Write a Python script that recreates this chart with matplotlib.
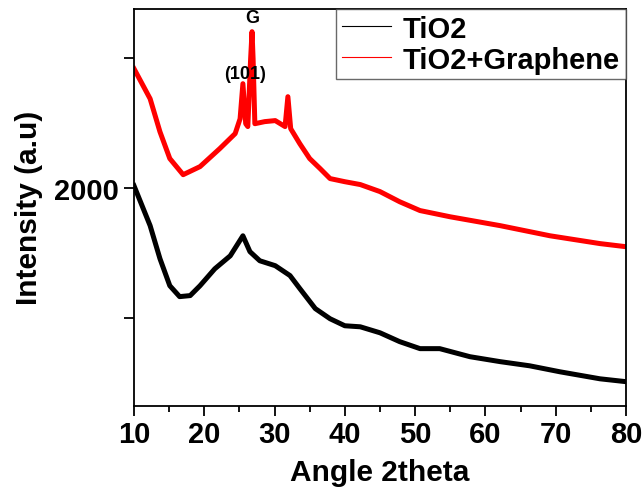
import matplotlib
matplotlib.use("Agg")
import matplotlib.pyplot as plt

plt.rcParams['font.family'] = ['Liberation Sans', 'DejaVu Sans']
plt.rcParams['font.weight'] = 'bold'

# TiO2+Graphene (red)
x_g = [10.0, 12.3, 13.7, 15.1, 17.0, 19.4, 22.2, 24.4, 25.1, 25.5, 25.9, 26.2,
       26.6, 26.8, 26.95, 27.2, 28.6, 30.1, 31.5, 31.9, 32.3, 33.6, 35.0, 36.5,
       37.9, 40.0, 42.2, 45.0, 47.8, 50.7, 55.0, 62.1, 69.2, 76.3, 80.0]
y_g = [2458, 2342, 2215, 2112, 2050, 2081, 2150, 2208, 2265, 2400, 2246, 2235,
       2496, 2600, 2496, 2246, 2254, 2258, 2235, 2350, 2227, 2169, 2112, 2073,
       2035, 2023, 2012, 1985, 1946, 1912, 1888, 1854, 1815, 1785, 1773]

# TiO2 (black)
x_t = [10.0, 12.3, 13.7, 15.1, 16.5, 18.0, 19.4, 21.5, 23.7, 25.5, 26.5, 27.9,
       30.1, 32.2, 33.6, 35.8, 37.9, 40.0, 42.2, 45.0, 47.8, 50.7, 53.5, 57.8,
       62.1, 66.3, 70.6, 76.3, 80.0]
y_t = [2008, 1854, 1727, 1623, 1581, 1585, 1623, 1688, 1738, 1815, 1754, 1719,
       1700, 1662, 1612, 1535, 1496, 1469, 1465, 1442, 1408, 1381, 1381, 1350,
       1331, 1315, 1292, 1265, 1254]

fig = plt.figure(figsize=(6.44, 4.89), dpi=100)
ax = fig.add_axes([0.208, 0.168, 0.764, 0.812])

ax.plot(x_t, y_t, color='black', lw=3.6)
ax.plot(x_g, y_g, color='red', lw=3.6)

# thin handles for the legend
h1, = ax.plot([], [], color='black', lw=0.8, label='TiO2')
h2, = ax.plot([], [], color='red', lw=0.8, label='TiO2+Graphene')
leg = ax.legend(handles=[h1, h2], loc='upper right', fontsize=21,
                frameon=True, fancybox=False, borderaxespad=0,
                handlelength=1.7, handletextpad=0.4, borderpad=0.2,
                labelspacing=0.1)
leg.get_frame().set_edgecolor('#444444')
leg.get_frame().set_linewidth(1.0)

ax.text(26.8, 2655, 'G', ha='center', va='center', fontsize=13)
ax.text(25.8, 2440, '(101)', ha='center', va='center', fontsize=13)

ax.set_xlim(10, 80)
ax.set_ylim(1161, 2688)
ax.set_xticks(range(10, 81, 10))
ax.set_xticks(range(15, 80, 10), minor=True)
ax.set_yticks([1500, 2000, 2500])
ax.set_yticklabels(['', '2000', ''])
ax.tick_params(axis='both', which='major', length=7, width=1.3, labelsize=21)
ax.tick_params(axis='x', which='minor', length=4, width=1.3)
for s in ax.spines.values():
    s.set_linewidth(1.3)

ax.set_xlabel('Angle 2theta', fontsize=21.5, fontweight='bold', labelpad=7)
ax.set_ylabel('Intensity (a.u)', fontsize=21.5, fontweight='bold', labelpad=8)

fig.savefig('out.png', dpi=100)
